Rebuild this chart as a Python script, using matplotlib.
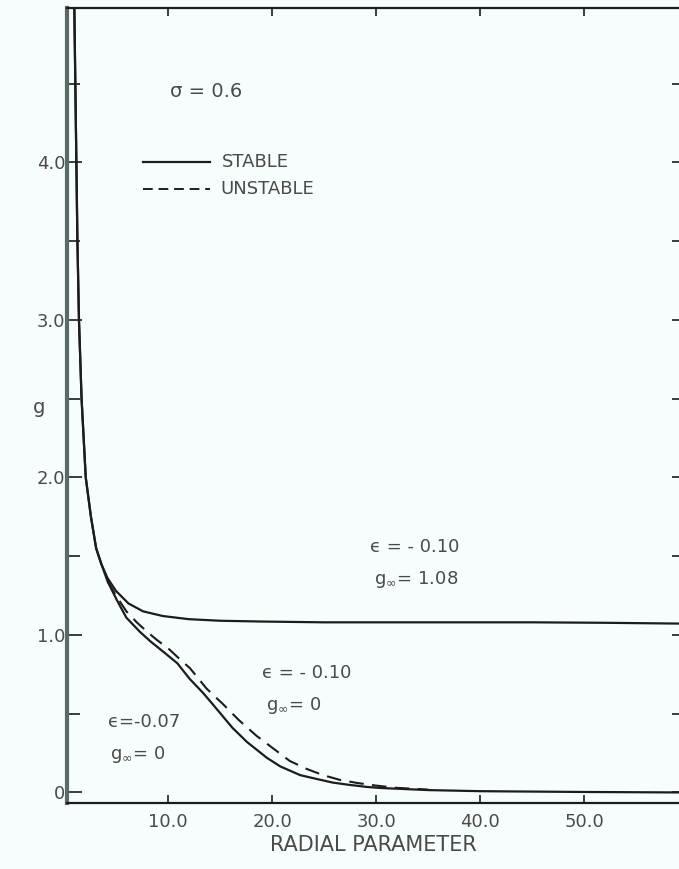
import matplotlib.pyplot as plt
from matplotlib.ticker import MultipleLocator

# radial parameter / g values read for each curve
x_top = [1.0, 1.1, 1.2, 1.3, 1.45, 1.7, 2.1, 2.6, 3.1, 3.6, 4.2, 5.0, 6.2, 7.6, 9.5, 12.0, 15.0, 19.0, 25.0, 35.0, 45.0, 52.0, 59.2]
g_top = [5.0, 4.5, 4.0, 3.5, 3.0, 2.5, 2.0, 1.75, 1.55, 1.45, 1.36, 1.28, 1.2, 1.15, 1.12, 1.1, 1.09, 1.085, 1.08, 1.08, 1.08, 1.077, 1.072]

x_s07 = [1.0, 1.1, 1.2, 1.3, 1.45, 1.7, 2.1, 2.6, 3.1, 3.6, 4.2, 5.1, 6.0, 7.3, 8.3, 9.8, 10.9, 12.1, 13.4, 14.3, 16.2, 17.6, 19.5, 20.8, 22.7, 24.0, 25.8, 27.2, 29.1, 30.5, 35.0, 40.0, 50.0, 59.2]
g_s07 = [5.0, 4.5, 4.0, 3.5, 3.0, 2.5, 2.0, 1.75, 1.55, 1.45, 1.34, 1.22, 1.11, 1.02, 0.96, 0.88, 0.82, 0.72, 0.63, 0.56, 0.41, 0.32, 0.22, 0.165, 0.11, 0.09, 0.063, 0.05, 0.035, 0.028, 0.015, 0.008, 0.003, 0.0]

x_u10 = [4.2, 5.1, 6.0, 7.0, 8.0, 8.9, 10.1, 11.4, 12.1, 13.7, 15.3, 16.8, 18.5, 20.1, 21.7, 23.3, 24.9, 26.5, 28.2, 29.8, 31.8, 35.0]
g_u10 = [1.34, 1.24, 1.15, 1.08, 1.02, 0.97, 0.91, 0.83, 0.79, 0.66, 0.56, 0.46, 0.36, 0.28, 0.2, 0.15, 0.11, 0.08, 0.06, 0.045, 0.03, 0.018]

x_ticks = [10, 20, 30, 40, 50]
x_ticklabels = ["10.0", "20.0", "30.0", "40.0", "50.0"]
y_ticks = [0, 1, 2, 3, 4]
y_ticklabels = ["0", "1.0", "2.0", "3.0", "4.0"]

bg = "#f7fcfc"
ink = "#1c1c1c"
grey = "#4a4a4a"

fig = plt.figure(figsize=(6.79, 8.69), dpi=100, facecolor=bg)
ax = fig.add_axes([67 / 679, 1 - 803 / 869, 1 - 67 / 679, (803 - 8) / 869])
ax.set_facecolor(bg)

ax.plot(x_top, g_top, color=ink, lw=1.6)
ax.plot(x_s07, g_s07, color=ink, lw=1.6)
ax.plot(x_u10, g_u10, color=ink, lw=1.5, dashes=(7, 4))

ax.set_xlim(0.3, 59.1)
ax.set_ylim(-0.067, 4.98)

ax.set_xticks(x_ticks)
ax.set_xticklabels(x_ticklabels)
ax.set_yticks(y_ticks)
ax.set_yticklabels(y_ticklabels)
ax.yaxis.set_minor_locator(MultipleLocator(0.5))
ax.tick_params(which="both", direction="in", top=True, right=False, colors=ink,
               labelcolor=grey, labelsize=13, width=1.2)
ax.tick_params(axis="y", which="major", length=11, pad=1)
ax.tick_params(axis="y", which="minor", length=9)
ax.tick_params(axis="x", which="major", length=6, pad=7)

# short ticks along the right edge
right = ax.secondary_yaxis("right")
right.yaxis.set_major_locator(MultipleLocator(0.5))
right.tick_params(direction="in", length=5, width=1.2, colors=ink, labelright=False)
right.spines["right"].set_visible(False)

for side in ["top", "bottom"]:
    ax.spines[side].set_color(ink)
    ax.spines[side].set_linewidth(1.6)
ax.spines["left"].set_color("#5a6a66")
ax.spines["left"].set_linewidth(3)
ax.spines["right"].set_visible(False)

ax.set_xlabel("RADIAL PARAMETER", fontsize=15, color=grey, labelpad=3)
ax.set_ylabel("g", fontsize=14, color=grey, rotation=0)
ax.yaxis.set_label_coords(-0.045, 0.485)

# legend drawn by hand
ax.text(10.2, 4.45, "σ = 0.6", fontsize=14, color=grey, va="center")
ax.plot([7.6, 14.0], [4.0, 4.0], color=ink, lw=1.6)
ax.text(15.2, 4.0, "STABLE", fontsize=13, color=grey, va="center")
ax.plot([7.6, 14.0], [3.83, 3.83], color=ink, lw=1.4, dashes=(5, 3))
ax.text(15.0, 3.83, "UNSTABLE", fontsize=13, color=grey, va="center")

# curve labels
ax.text(29.4, 1.56, "ϵ = - 0.10", fontsize=13, color=grey, va="center")
ax.text(29.8, 1.35, "g$_{\\infty}$= 1.08", fontsize=13, color=grey, va="center")
ax.text(19.0, 0.76, "ϵ = - 0.10", fontsize=13, color=grey, va="center")
ax.text(19.4, 0.55, "g$_{\\infty}$= 0", fontsize=13, color=grey, va="center")
ax.text(4.2, 0.45, "ϵ=-0.07", fontsize=13, color=grey, va="center")
ax.text(4.4, 0.24, "g$_{\\infty}$= 0", fontsize=13, color=grey, va="center")

fig.savefig("out.png", dpi=100, facecolor=bg)
